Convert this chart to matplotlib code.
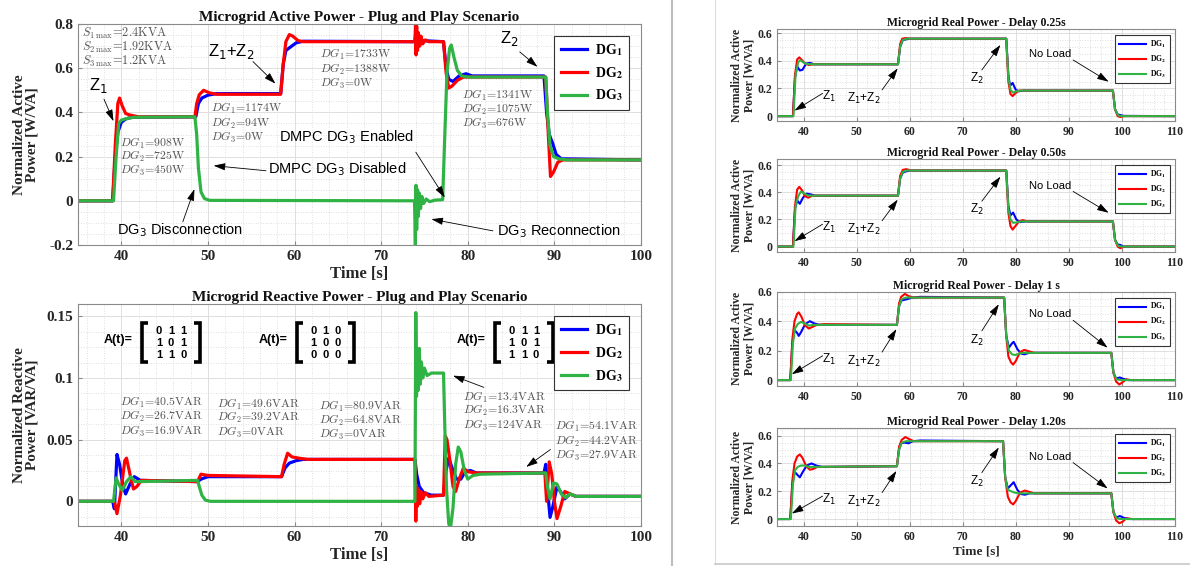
import numpy as np
import matplotlib
matplotlib.use('Agg')
import matplotlib.pyplot as plt
from matplotlib.ticker import AutoMinorLocator, FuncFormatter
from matplotlib.lines import Line2D

plt.rcParams['mathtext.fontset'] = 'stix'
plt.rcParams['axes.unicode_minus'] = False

# ── data: (time [s], normalized power) knots ───────────────────────────────
# active power, plug and play
tl_dg1 = [(35, 0), (39.0, 0), (39.3, 0.2), (39.6, 0.31), (40.0, 0.355), (40.5, 0.37), (41.2, 0.378),
          (48.6, 0.38), (48.9, 0.44), (49.3, 0.465), (50.0, 0.478), (51, 0.485), (58.4, 0.485),
          (58.7, 0.62), (59.0, 0.68), (59.5, 0.695), (60.2, 0.715), (61, 0.722), (73.9, 0.72),
          (74.0, 0.76), (74.1, 0.69), (74.25, 0.74), (74.4, 0.71), (74.6, 0.725), (77.2, 0.72),
          (77.5, 0.6), (77.8, 0.55), (78.3, 0.54), (79, 0.565), (79.8, 0.575), (80.5, 0.565),
          (88.8, 0.565), (89.1, 0.4), (89.4, 0.3), (89.8, 0.26), (90.2, 0.21), (90.8, 0.19), (100, 0.185)]
tl_dg2 = [(35, 0), (39.0, 0), (39.3, 0.25), (39.6, 0.44), (39.8, 0.465), (40.1, 0.43), (40.5, 0.395),
          (41.0, 0.388), (42, 0.38), (48.5, 0.38), (48.7, 0.44), (49.0, 0.48), (49.5, 0.5), (50.2, 0.488),
          (51, 0.482), (58.4, 0.482), (58.7, 0.62), (59.0, 0.72), (59.4, 0.752), (59.8, 0.745),
          (60.4, 0.725), (61, 0.72), (73.9, 0.72), (73.97, 0.8), (74.03, 0.66), (74.1, 0.79), (74.2, 0.68),
          (74.3, 0.76), (74.45, 0.7), (74.6, 0.745), (74.8, 0.71), (75.1, 0.728), (75.5, 0.72),
          (77.2, 0.72), (77.5, 0.58), (77.8, 0.51), (78.2, 0.52), (78.8, 0.545), (79.5, 0.56),
          (89.0, 0.56), (89.3, 0.3), (89.55, 0.11), (89.9, 0.13), (90.4, 0.175), (91, 0.185), (100, 0.185)]
tl_dg3 = [(35, 0), (39.1, 0), (39.4, 0.2), (39.7, 0.35), (40.0, 0.365), (40.6, 0.372), (41.5, 0.378),
          (48.5, 0.38), (48.7, 0.3), (48.9, 0.15), (49.2, 0.04), (49.6, 0.01), (50.2, 0.002), (73.85, 0),
          (73.95, -0.2), (74.02, 0.07), (74.1, -0.13), (74.2, 0.05), (74.3, -0.07), (74.4, 0.035),
          (74.55, -0.035), (74.7, 0.02), (74.9, -0.012), (75.2, 0.008), (75.6, -0.004), (76.2, 0.003),
          (77.1, 0.005), (77.35, 0.3), (77.6, 0.58), (77.9, 0.69), (78.1, 0.705), (78.4, 0.65),
          (78.8, 0.59), (79.3, 0.565), (80, 0.56), (89.0, 0.56), (89.2, 0.4), (89.5, 0.25), (89.9, 0.2),
          (90.5, 0.19), (91.5, 0.185), (100, 0.185)]

# reactive power, plug and play
bl_dg1 = [(35, 0), (39.0, 0), (39.2, -0.006), (39.5, 0.038), (39.8, 0.03), (40.2, 0.012), (40.5, 0.006),
          (41.0, 0.014), (41.5, 0.02), (42.2, 0.017), (48.8, 0.016), (49.2, 0.018), (50, 0.02),
          (58.5, 0.02), (58.9, 0.027), (59.4, 0.031), (60.2, 0.033), (61, 0.034), (73.9, 0.034),
          (74.1, 0.022), (74.4, 0.012), (74.9, 0.007), (75.8, 0.005), (77.2, 0.005), (77.5, 0.025),
          (77.8, 0.035), (78.2, 0.027), (78.7, 0.018), (79.2, 0.018), (79.7, 0.024), (80.3, 0.025),
          (81, 0.023), (88.8, 0.023), (89.0, 0.03), (89.2, 0.01), (89.5, -0.013), (89.8, -0.005),
          (90.3, 0.012), (90.7, 0.008), (91.2, 0.002), (91.8, 0.006), (92.5, 0.004), (100, 0.004)]
bl_dg2 = [(35, 0), (39.2, 0), (39.5, -0.01), (39.9, 0.005), (40.4, 0.033), (40.6, 0.035), (41.0, 0.022),
          (41.4, 0.01), (41.8, 0.012), (42.3, 0.017), (48.8, 0.016), (49.2, 0.022), (50, 0.021),
          (58.5, 0.02), (58.8, 0.03), (59.2, 0.039), (59.7, 0.036), (60.5, 0.035), (61.5, 0.034),
          (73.9, 0.034), (74.0, -0.016), (74.08, 0.012), (74.18, -0.004), (74.3, 0.01), (74.45, -0.002),
          (74.6, 0.008), (74.8, 0.002), (75.1, 0.007), (75.5, 0.004), (77.2, 0.005), (77.4, 0.053),
          (77.6, 0.05), (77.9, 0.035), (78.3, 0.012), (78.6, 0.008), (79.0, 0.018), (79.5, 0.027),
          (80, 0.024), (81, 0.023), (88.9, 0.023), (89.1, 0.0), (89.4, 0.032), (89.7, 0.022), (90.0, 0.0),
          (90.3, -0.014), (90.7, -0.005), (91.2, 0.008), (91.8, 0.006), (92.5, 0.004), (100, 0.004)]
bl_dg3 = [(35, 0), (39.1, 0), (39.4, 0.019), (39.7, 0.014), (40.1, 0.009), (40.6, 0.016), (41.1, 0.02),
          (41.6, 0.016), (42.2, 0.016), (48.8, 0.017), (49.0, 0.012), (49.3, 0.005), (49.7, 0.001),
          (50.3, 0), (73.9, 0), (74.0, 0.153), (74.08, 0.085), (74.17, 0.11), (74.27, 0.09), (74.4, 0.124),
          (74.52, 0.095), (74.65, 0.113), (74.8, 0.1), (75.0, 0.108), (75.3, 0.102), (75.8, 0.104),
          (77.2, 0.104), (77.35, 0.06), (77.55, 0.01), (77.8, -0.018), (78.0, -0.022), (78.3, -0.005),
          (78.6, 0.03), (78.9, 0.044), (79.2, 0.04), (79.6, 0.025), (80.0, 0.018), (80.6, 0.021),
          (81.5, 0.022), (89.0, 0.023), (89.2, 0.012), (89.5, 0.002), (89.9, 0.015), (90.3, 0.014),
          (90.8, 0.006), (91.3, 0.003), (91.8, 0.006), (92.5, 0.004), (100, 0.004)]

# real power with communication delay
r1_dg1 = [(35, 0), (38.0, 0), (38.4, 0.28), (38.8, 0.36), (39.3, 0.33), (39.8, 0.335), (40.5, 0.38),
          (41.2, 0.385), (42, 0.375), (57.8, 0.375), (58.2, 0.5), (58.7, 0.55), (59.3, 0.555), (60, 0.56),
          (78.2, 0.56), (78.6, 0.3), (78.9, 0.22), (79.4, 0.24), (80, 0.19), (80.6, 0.18), (81.5, 0.185),
          (98.3, 0.185), (98.7, 0.05), (99.2, 0.012), (99.7, 0.008), (100.3, 0.002), (110, 0)]
r1_dg2 = [(35, 0), (38.0, 0), (38.4, 0.3), (38.8, 0.41), (39.2, 0.425), (39.7, 0.405), (40.3, 0.38),
          (41, 0.37), (42, 0.375), (57.8, 0.375), (58.2, 0.52), (58.6, 0.56), (59.3, 0.565), (60, 0.56),
          (78.2, 0.56), (78.6, 0.25), (79.0, 0.16), (79.4, 0.145), (79.9, 0.165), (80.6, 0.185),
          (81.5, 0.185), (98.3, 0.185), (98.7, 0.05), (99.2, 0.0), (99.7, -0.006), (100.3, 0), (110, 0)]
r1_dg3 = [(35, 0), (38.1, 0), (38.5, 0.3), (39.0, 0.39), (39.4, 0.405), (39.9, 0.39), (40.5, 0.378),
          (41.5, 0.375), (57.8, 0.375), (58.2, 0.5), (58.7, 0.55), (59.4, 0.56), (78.2, 0.56), (78.6, 0.28),
          (79.0, 0.19), (79.5, 0.17), (80.1, 0.18), (81, 0.185), (98.3, 0.185), (98.7, 0.05),
          (99.3, 0.005), (100, 0), (110, 0)]

r2_dg1 = [(35, 0), (38.0, 0), (38.4, 0.28), (38.8, 0.34), (39.3, 0.315), (39.9, 0.36), (40.6, 0.39),
          (41.3, 0.385), (42.2, 0.375), (57.8, 0.375), (58.2, 0.5), (58.7, 0.545), (59.4, 0.555),
          (60.2, 0.56), (78.2, 0.56), (78.6, 0.3), (79.0, 0.23), (79.5, 0.25), (80.1, 0.2), (80.8, 0.18),
          (81.8, 0.185), (98.3, 0.185), (98.7, 0.05), (99.2, 0.015), (99.7, 0.012), (100.3, 0.0), (110, 0)]
r2_dg2 = [(35, 0), (38.0, 0), (38.4, 0.3), (38.8, 0.42), (39.2, 0.44), (39.7, 0.415), (40.3, 0.37),
          (40.9, 0.36), (41.6, 0.375), (57.8, 0.375), (58.2, 0.52), (58.7, 0.565), (59.4, 0.57),
          (60.2, 0.56), (78.2, 0.56), (78.6, 0.25), (79.0, 0.15), (79.4, 0.125), (79.9, 0.15),
          (80.6, 0.185), (81.3, 0.195), (82.2, 0.185), (98.3, 0.185), (98.7, 0.05), (99.2, 0.0),
          (99.7, -0.012), (100.4, 0.0), (110, 0)]
r2_dg3 = [(35, 0), (38.1, 0), (38.5, 0.3), (39.0, 0.37), (39.5, 0.405), (40.0, 0.395), (40.7, 0.378),
          (41.5, 0.375), (57.8, 0.375), (58.2, 0.5), (58.7, 0.55), (59.4, 0.56), (78.2, 0.56), (78.6, 0.28),
          (79.0, 0.2), (79.5, 0.175), (80.1, 0.178), (81, 0.185), (98.3, 0.185), (98.7, 0.05),
          (99.3, 0.005), (100, 0), (110, 0)]

r3_dg1 = [(35, 0), (37.5, 0), (37.9, 0.25), (38.3, 0.34), (38.8, 0.32), (39.1, 0.30), (39.6, 0.33),
          (40.3, 0.38), (41.2, 0.40), (42, 0.385), (43, 0.375), (57.6, 0.375), (58.0, 0.5), (58.4, 0.54),
          (59.0, 0.545), (59.6, 0.55), (60.5, 0.56), (62, 0.565), (77.8, 0.56), (78.2, 0.3), (78.7, 0.22),
          (79.3, 0.25), (79.6, 0.26), (80.3, 0.21), (81.0, 0.18), (81.6, 0.175), (82.5, 0.185),
          (98.0, 0.185), (98.4, 0.05), (98.9, 0.01), (99.6, 0.018), (100.3, 0.008), (101.2, 0.0), (110, 0)]
r3_dg2 = [(35, 0), (37.5, 0), (37.9, 0.28), (38.3, 0.4), (38.8, 0.45), (39.1, 0.46), (39.6, 0.43),
          (40.3, 0.37), (41.0, 0.35), (41.6, 0.36), (42.5, 0.375), (44, 0.38), (57.6, 0.375), (58.0, 0.52),
          (58.4, 0.565), (59.1, 0.585), (59.8, 0.57), (60.8, 0.56), (77.8, 0.56), (78.2, 0.3),
          (78.6, 0.16), (79.1, 0.12), (79.5, 0.105), (80.0, 0.13), (80.8, 0.19), (81.6, 0.205),
          (82.5, 0.195), (83.5, 0.185), (98.0, 0.185), (98.4, 0.05), (98.9, -0.01), (99.5, -0.03),
          (100.1, -0.015), (100.8, 0.005), (101.8, 0.0), (110, 0)]
r3_dg3 = [(35, 0), (37.6, 0), (38.0, 0.25), (38.4, 0.35), (38.9, 0.38), (39.5, 0.395), (40.2, 0.385),
          (41, 0.37), (42, 0.375), (57.6, 0.375), (58.0, 0.5), (58.5, 0.55), (59.3, 0.56), (77.8, 0.56),
          (78.2, 0.3), (78.7, 0.2), (79.3, 0.175), (79.9, 0.17), (80.6, 0.18), (81.5, 0.185),
          (98.0, 0.185), (98.4, 0.05), (99.0, 0.005), (99.8, 0.0), (110, 0)]

r4_dg1 = [(35, 0), (37.5, 0), (37.9, 0.25), (38.3, 0.34), (38.8, 0.32), (39.3, 0.30), (39.8, 0.335),
          (40.6, 0.385), (41.5, 0.40), (42.4, 0.385), (43.5, 0.375), (57.6, 0.38), (58.0, 0.5),
          (58.4, 0.545), (59.0, 0.55), (59.8, 0.545), (60.6, 0.56), (62, 0.565), (77.6, 0.56), (78.0, 0.3),
          (78.5, 0.22), (79.1, 0.245), (79.6, 0.265), (80.3, 0.21), (81.0, 0.18), (81.7, 0.175),
          (82.6, 0.185), (98.0, 0.185), (98.4, 0.05), (98.9, 0.01), (99.6, 0.022), (100.4, 0.008),
          (101.5, 0.0), (110, 0)]
r4_dg2 = [(35, 0), (37.5, 0), (37.9, 0.28), (38.3, 0.4), (38.8, 0.45), (39.3, 0.465), (39.8, 0.44),
          (40.5, 0.38), (41.2, 0.355), (41.8, 0.36), (42.6, 0.375), (57.6, 0.38), (58.0, 0.52),
          (58.5, 0.57), (59.2, 0.59), (59.9, 0.575), (60.8, 0.56), (77.6, 0.56), (78.0, 0.3), (78.5, 0.16),
          (79.0, 0.12), (79.5, 0.105), (80.0, 0.13), (80.8, 0.19), (81.7, 0.205), (82.6, 0.195),
          (83.5, 0.185), (98.0, 0.185), (98.4, 0.05), (98.9, -0.01), (99.5, -0.03), (100.1, -0.02),
          (100.8, 0.005), (102, 0.0), (110, 0)]
r4_dg3 = [(35, 0), (37.6, 0), (38.0, 0.25), (38.4, 0.35), (38.9, 0.375), (39.5, 0.385), (40.2, 0.385),
          (41, 0.375), (57.6, 0.38), (58.0, 0.5), (58.5, 0.55), (59.3, 0.56), (77.6, 0.56), (78.0, 0.3),
          (78.5, 0.21), (79.1, 0.2), (79.8, 0.19), (80.5, 0.185), (98.0, 0.185), (98.4, 0.05),
          (99.0, 0.005), (99.8, 0.0), (110, 0)]

dg_labels = ['DG$_\\mathbf{1}$', 'DG$_\\mathbf{2}$', 'DG$_\\mathbf{3}$']
delay_titles = ['0.25s', '0.50s', '1 s', '1.20s']

# text blocks of the left panels
p_blocks = [(39.85, [0.26, 0.2, 0.136], ['908', '725', '450']),
            (50.4, [0.417, 0.351, 0.288], ['1174', '94', '0']),
            (62.9, [0.662, 0.594, 0.533], ['1733', '1388', '0']),
            (79.3, [0.477, 0.412, 0.349], ['1341', '1075', '676'])]
q_blocks = [(39.85, [0.0799, 0.0685, 0.0569], ['40.5', '26.7', '16.9']),
            (51.1, [0.0789, 0.0677, 0.0558], ['49.6', '39.2', '0']),
            (62.8, [0.0772, 0.0659, 0.0545], ['80.9', '64.8', '0']),
            (79.45, [0.0843, 0.0734, 0.0618], ['13.4', '16.3', '124']),
            (90.1, [0.0604, 0.0482, 0.0368], ['54.1', '44.2', '27.9'])]
s_max = ['2.4', '1.92', '1.2']
# adjacency matrices A(t), one per time interval
adjacency = [[[0, 1, 1], [1, 0, 1], [1, 1, 0]],
             [[0, 1, 0], [1, 0, 0], [0, 0, 0]],
             [[0, 1, 1], [1, 0, 1], [1, 1, 0]]]
# where each matrix is written: "A(t)=" x, left bracket x, right bracket x
mat_pos = [(38.0, 42.4, 49.1), (55.9, 60.3, 66.9), (78.7, 83.15, 89.8)]

BLUE, RED, GREEN = '#0000ff', '#ff0000', '#2fb344'
COLS = [BLUE, RED, GREEN]
GRAY_TXT = '#555555'
W, H = 1190, 566

fig = plt.figure(figsize=(W / 100, H / 100), dpi=100)
fig.patch.set_facecolor('white')


def px_axes(l, t, r, b):
    return fig.add_axes([l / W, 1 - b / H, (r - l) / W, (b - t) / H])


def style(ax, fs, ylabel, title, xlabel=None):
    ax.set_axisbelow(True)
    ax.xaxis.set_minor_locator(AutoMinorLocator(5))
    ax.yaxis.set_minor_locator(AutoMinorLocator(4))
    ax.grid(True, which='major', color='#dedede', lw=0.7)
    ax.grid(True, which='minor', color='#d5d5d5', lw=0.6, ls=(0, (1, 2)))
    for sp in ax.spines.values():
        sp.set_color('#8a8a8a')
        sp.set_linewidth(0.8)
    ax.tick_params(which='both', direction='in', colors='#8a8a8a', labelcolor='#262626')
    ax.tick_params(which='major', length=3)
    ax.tick_params(which='minor', length=0)
    ax.yaxis.set_major_formatter(FuncFormatter(lambda v, p: '%g' % round(v, 3)))
    for lab in ax.get_xticklabels() + ax.get_yticklabels():
        lab.set_fontfamily('Liberation Serif')
        lab.set_fontweight('bold')
        lab.set_fontsize(fs)
    ax.set_title(title, fontfamily='Liberation Serif', fontweight='bold', fontsize=fs, pad=2,
                 color='#111111')
    ax.set_ylabel(ylabel, fontfamily='Liberation Serif', fontweight='bold', fontsize=fs,
                  color='#262626', linespacing=1.0)
    if xlabel:
        ax.set_xlabel(xlabel, fontfamily='Liberation Serif', fontweight='bold', fontsize=fs + 1,
                      color='#262626', labelpad=2)


def arrow(ax, text_xy, tip_xy):
    ax.annotate('', xy=tip_xy, xytext=text_xy,
                arrowprops=dict(arrowstyle='-|>,head_length=0.7,head_width=0.22', color='black',
                                lw=0.6, shrinkA=0, shrinkB=0))


def sans(ax, x, y, s, fs, ha='center'):
    ax.text(x, y, s, fontfamily='Liberation Sans', fontsize=fs, ha=ha, va='center',
            math_fontfamily='dejavusans', color='black')


def legend(ax, fs, bbox, hl):
    leg = ax.legend(loc='upper right', bbox_to_anchor=bbox, borderaxespad=0, fancybox=False,
                    framealpha=1, edgecolor='#333333', handlelength=hl,
                    prop={'family': 'Liberation Serif', 'weight': 'bold', 'size': fs},
                    borderpad=0.45, labelspacing=0.5, handletextpad=0.6)
    leg.get_frame().set_linewidth(0.8)


# ── top left: active power ─────────────────────────────────────────────────
ax = px_axes(78, 24, 641, 245)
for d, c, lab in zip([tl_dg1, tl_dg2, tl_dg3], COLS, dg_labels):
    d = np.array(d)
    ax.plot(d[:, 0], d[:, 1], color=c, lw=2.3, label=lab)
ax.set_xlim(35, 100)
ax.set_ylim(-0.2, 0.8)
ax.set_xticks(np.arange(40, 101, 10))
ax.set_yticks(np.arange(-0.2, 0.81, 0.2))
style(ax, 11, 'Normalized Active\nPower [W/VA]', 'Microgrid Active Power - Plug and Play Scenario',
      'Time [s]')
ax.yaxis.set_label_coords(-0.07, 0.5)
legend(ax, 10, (0.979, 0.946), 1.9)
for i, v in enumerate(s_max):
    ax.text(35.5, 0.755 - i * 0.062, r'$S_{%d\,\mathrm{max}}\!=\!%s\mathrm{KVA}$' % (i + 1, v),
            fontsize=8.8, color=GRAY_TXT, math_fontfamily='cm', va='center')
for x0, ys, vals in p_blocks:
    for i, (y, v) in enumerate(zip(ys, vals)):
        ax.text(x0, y, r'$DG_{%d}\!=\!%s\mathrm{W}$' % (i + 1, v), fontsize=8.5, color=GRAY_TXT,
                math_fontfamily='cm', va='center')
sans(ax, 37.4, 0.52, 'Z$_1$', 12)
arrow(ax, (38.0, 0.46), (39.1, 0.36))
sans(ax, 52.7, 0.674, 'Z$_1$+Z$_2$', 12)
arrow(ax, (55.2, 0.63), (57.8, 0.53))
sans(ax, 84.8, 0.735, 'Z$_2$', 12)
arrow(ax, (86.0, 0.674), (88.05, 0.606))
sans(ax, 66.0, 0.288, 'DMPC DG$_3$ Enabled', 10.5)
arrow(ax, (74.0, 0.22), (77.35, 0.015))
sans(ax, 56.9, 0.144, 'DMPC DG$_3$ Disabled', 10.5, ha='left')
arrow(ax, (56.7, 0.136), (50.66, 0.159))
sans(ax, 46.8, -0.133, 'DG$_3$ Disconnection', 10.5)
arrow(ax, (47.1, -0.095), (48.44, 0.053))
sans(ax, 83.4, -0.136, 'DG$_3$ Reconnection', 10.5, ha='left')
arrow(ax, (82.9, -0.136), (75.8, -0.083))

# ── bottom left: reactive power ────────────────────────────────────────────
ax = px_axes(78, 304, 641, 526)
for d, c, lab in zip([bl_dg1, bl_dg2, bl_dg3], COLS, dg_labels):
    d = np.array(d)
    ax.plot(d[:, 0], d[:, 1], color=c, lw=2.3, label=lab)
ax.set_xlim(35, 100)
ax.set_ylim(-0.02, 0.16)
ax.set_xticks(np.arange(40, 101, 10))
ax.set_yticks([0, 0.05, 0.1, 0.15])
style(ax, 11, 'Normalized Reactive\nPower [VAR/VA]', 'Microgrid Reactive Power - Plug and Play Scenario',
      'Time [s]')
ax.yaxis.set_label_coords(-0.07, 0.5)
legend(ax, 10, (0.979, 0.946), 1.9)
for x0, ys, vals in q_blocks:
    for i, (y, v) in enumerate(zip(ys, vals)):
        ax.text(x0, y, r'$DG_{%d}\!=\!%s\mathrm{VAR}$' % (i + 1, v), fontsize=8.5, color=GRAY_TXT,
                math_fontfamily='cm', va='center')
arrow(ax, (81.86, 0.0924), (78.3, 0.1019))
arrow(ax, (89.54, 0.042), (86.75, 0.0279))
y_top, y_bot, serif = 0.1445, 0.1133, 0.7
for (xa, xl, xr), mat in zip(mat_pos, adjacency):
    ax.text(xa, 0.131, 'A(t)=', fontfamily='Liberation Sans', fontweight='bold', fontsize=9,
            va='center', ha='left')
    xc = (xl + xr) / 2
    for j in range(3):
        col = '\n'.join(str(mat[i][j]) for i in range(3))
        ax.text(xc + (j - 1) * 1.4, 0.1283, col, fontfamily='Liberation Sans', fontweight='bold',
                fontsize=8, va='center', ha='center', linespacing=1.2)
    ax.plot([xl + serif, xl, xl, xl + serif], [y_top, y_top, y_bot, y_bot], color='black', lw=2.6,
            solid_joinstyle='miter', solid_capstyle='butt')
    ax.plot([xr - serif, xr, xr, xr - serif], [y_top, y_top, y_bot, y_bot], color='black', lw=2.6,
            solid_joinstyle='miter', solid_capstyle='butt')

# ── right column: delays ───────────────────────────────────────────────────
right_boxes = [(29, 121, (-0.035, 0.63)), (159, 252, (-0.04, 0.645)),
               (291.7, 386, (-0.04, 0.6)), (428, 526, (-0.05, 0.655))]
right_data = [(r1_dg1, r1_dg2, r1_dg3), (r2_dg1, r2_dg2, r2_dg3),
              (r3_dg1, r3_dg2, r3_dg3), (r4_dg1, r4_dg2, r4_dg3)]
for k, ((top, bot, ylim), series, dl) in enumerate(zip(right_boxes, right_data, delay_titles)):
    ax = px_axes(777, top, 1175, bot)
    for d, c, lab in zip(series, COLS, dg_labels):
        d = np.array(d)
        ax.plot(d[:, 0], d[:, 1], color=c, lw=1.5, label=lab)
    ax.set_xlim(35, 110)
    ax.set_ylim(*ylim)
    ax.set_xticks(np.arange(40, 111, 10))
    ax.set_yticks([0, 0.2, 0.4, 0.6])
    style(ax, 8.5, 'Normalized Active\nPower [W/VA]', 'Microgrid Real Power - Delay ' + dl,
          'Time [s]' if k == 3 else None)
    ax.yaxis.set_label_coords(-0.055, 0.5)
    legend(ax, 5.5, (0.987, 0.935), 3.5)
    sans(ax, 44.75, 0.14, 'Z$_1$', 8.5)
    arrow(ax, (43.6, 0.165), (38.3 if k < 2 else 37.8, 0.04))
    sans(ax, 51.3, 0.125, 'Z$_1$+Z$_2$', 8.5)
    arrow(ax, (54.8, 0.19), (57.75 if k < 2 else 57.5, 0.346))
    sans(ax, 72.6, 0.27, 'Z$_2$', 8.5)
    arrow(ax, (73.6, 0.334), (77.1 if k < 2 else 76.8, 0.515))
    sans(ax, 86.4, 0.448, 'No Load', 8)
    arrow(ax, (90.8, 0.406), (97.5 if k < 2 else 97.3, 0.249 if k < 2 else 0.22))

# panel separators
fig.add_artist(Line2D([672 / W, 672 / W], [0, 1], color='#bdbdbd', lw=1.5, transform=fig.transFigure))
fig.add_artist(Line2D([715 / W, 715 / W], [2 / H, 1], color='#dcdcdc', lw=0.8, transform=fig.transFigure))
fig.add_artist(Line2D([715 / W, 1], [2 / H, 2 / H], color='#c8c8c8', lw=1.2, transform=fig.transFigure))

fig.savefig('out.png', dpi=100, facecolor='white')
